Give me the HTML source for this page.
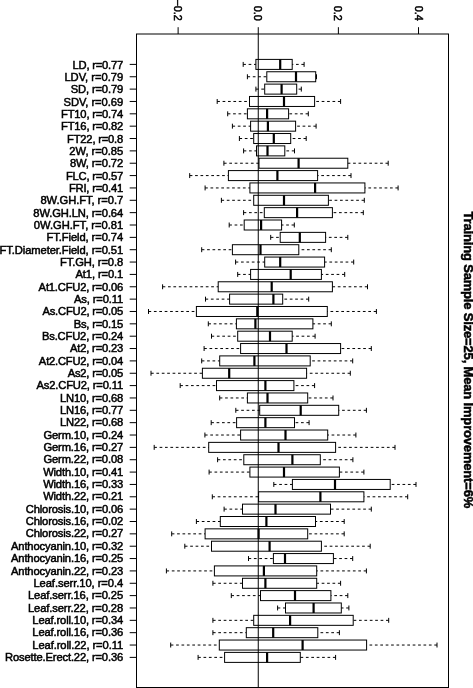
<!DOCTYPE html>
<html><head><meta charset="utf-8"><style>
html,body{margin:0;padding:0;background:#fff;}
body{width:473px;height:688px;overflow:hidden;}
svg{display:block;will-change:transform;}
.w{stroke:#000;stroke-width:1;stroke-dasharray:2.7 2.7;fill:none;}
.s{stroke:#000;stroke-width:1;fill:none;}
.b{stroke:#000;stroke-width:1;fill:none;}
.m{stroke:#000;stroke-width:2.2;}
text{font-family:"Liberation Sans",sans-serif;fill:#000;stroke:#000;stroke-width:0.5px;}
.l{font-size:11.2px;text-anchor:end;}
.t{font-size:10.8px;text-anchor:end;}
.ti{font-size:13px;font-weight:bold;text-anchor:start;}
</style></head><body>
<svg width="473" height="688" viewBox="0 0 473 688">
<rect width="473" height="688" fill="#fff"/>
<line x1="243.2" y1="64.4" x2="255.9" y2="64.4" class="w"/>
<line x1="304.1" y1="64.4" x2="292.2" y2="64.4" class="w"/>
<line x1="243.2" y1="61.93" x2="243.2" y2="66.87" class="s"/>
<line x1="304.1" y1="61.93" x2="304.1" y2="66.87" class="s"/>
<rect x="255.9" y="59.4" width="36.3" height="10" class="b"/>
<line x1="280.2" y1="59.4" x2="280.2" y2="69.4" class="m"/>
<line x1="129.7" y1="64.4" x2="136.5" y2="64.4" class="s"/>
<text x="123.2" y="68.5" class="l" textLength="50.72" lengthAdjust="spacing">LD, r=0.77</text>
<line x1="247.4" y1="76.75" x2="266.8" y2="76.75" class="w"/>
<line x1="316.5" y1="76.75" x2="315.7" y2="76.75" class="w"/>
<line x1="247.4" y1="74.28" x2="247.4" y2="79.22" class="s"/>
<line x1="316.5" y1="74.28" x2="316.5" y2="79.22" class="s"/>
<rect x="266.8" y="71.75" width="48.9" height="10" class="b"/>
<line x1="296" y1="71.75" x2="296" y2="81.75" class="m"/>
<line x1="129.7" y1="76.75" x2="136.5" y2="76.75" class="s"/>
<text x="123.2" y="80.84" class="l" textLength="58.79" lengthAdjust="spacing">LDV, r=0.79</text>
<line x1="255.9" y1="89.11" x2="264.7" y2="89.11" class="w"/>
<line x1="301.3" y1="89.11" x2="296.7" y2="89.11" class="w"/>
<line x1="255.9" y1="86.64" x2="255.9" y2="91.58" class="s"/>
<line x1="301.3" y1="86.64" x2="301.3" y2="91.58" class="s"/>
<rect x="264.7" y="84.11" width="32" height="10" class="b"/>
<line x1="281.6" y1="84.11" x2="281.6" y2="94.11" class="m"/>
<line x1="129.7" y1="89.11" x2="136.5" y2="89.11" class="s"/>
<text x="123.2" y="93.18" class="l" textLength="52.45" lengthAdjust="spacing">SD, r=0.79</text>
<line x1="217.2" y1="101.46" x2="249.5" y2="101.46" class="w"/>
<line x1="340.6" y1="101.46" x2="314.6" y2="101.46" class="w"/>
<line x1="217.2" y1="98.99" x2="217.2" y2="103.93" class="s"/>
<line x1="340.6" y1="98.99" x2="340.6" y2="103.93" class="s"/>
<rect x="249.5" y="96.46" width="65.1" height="10" class="b"/>
<line x1="284" y1="96.46" x2="284" y2="106.46" class="m"/>
<line x1="129.7" y1="101.46" x2="136.5" y2="101.46" class="s"/>
<text x="123.2" y="105.52" class="l" textLength="59.72" lengthAdjust="spacing">SDV, r=0.69</text>
<line x1="227.7" y1="113.82" x2="247.4" y2="113.82" class="w"/>
<line x1="308.3" y1="113.82" x2="288.6" y2="113.82" class="w"/>
<line x1="227.7" y1="111.35" x2="227.7" y2="116.29" class="s"/>
<line x1="308.3" y1="111.35" x2="308.3" y2="116.29" class="s"/>
<rect x="247.4" y="108.82" width="41.2" height="10" class="b"/>
<line x1="267.1" y1="108.82" x2="267.1" y2="118.82" class="m"/>
<line x1="129.7" y1="113.82" x2="136.5" y2="113.82" class="s"/>
<text x="123.2" y="117.87" class="l" textLength="62.12" lengthAdjust="spacing">FT10, r=0.74</text>
<line x1="232.4" y1="126.17" x2="250.6" y2="126.17" class="w"/>
<line x1="316.1" y1="126.17" x2="295.6" y2="126.17" class="w"/>
<line x1="232.4" y1="123.7" x2="232.4" y2="128.64" class="s"/>
<line x1="316.1" y1="123.7" x2="316.1" y2="128.64" class="s"/>
<rect x="250.6" y="121.17" width="45" height="10" class="b"/>
<line x1="267.9" y1="121.17" x2="267.9" y2="131.17" class="m"/>
<line x1="129.7" y1="126.17" x2="136.5" y2="126.17" class="s"/>
<text x="123.2" y="130.21" class="l" textLength="62.12" lengthAdjust="spacing">FT16, r=0.82</text>
<line x1="239.4" y1="138.52" x2="253.7" y2="138.52" class="w"/>
<line x1="306.2" y1="138.52" x2="290.7" y2="138.52" class="w"/>
<line x1="239.4" y1="136.05" x2="239.4" y2="140.99" class="s"/>
<line x1="306.2" y1="136.05" x2="306.2" y2="140.99" class="s"/>
<rect x="253.7" y="133.52" width="37" height="10" class="b"/>
<line x1="273.8" y1="133.52" x2="273.8" y2="143.52" class="m"/>
<line x1="129.7" y1="138.52" x2="136.5" y2="138.52" class="s"/>
<text x="123.2" y="142.55" class="l" textLength="56.11" lengthAdjust="spacing">FT22, r=0.8</text>
<line x1="243.6" y1="150.88" x2="256.5" y2="150.88" class="w"/>
<line x1="294.5" y1="150.88" x2="284.8" y2="150.88" class="w"/>
<line x1="243.6" y1="148.41" x2="243.6" y2="153.35" class="s"/>
<line x1="294.5" y1="148.41" x2="294.5" y2="153.35" class="s"/>
<rect x="256.5" y="145.88" width="28.3" height="10" class="b"/>
<line x1="267.5" y1="145.88" x2="267.5" y2="155.88" class="m"/>
<line x1="129.7" y1="150.88" x2="136.5" y2="150.88" class="s"/>
<text x="123.2" y="154.89" class="l" textLength="53.84" lengthAdjust="spacing">2W, r=0.85</text>
<line x1="223.9" y1="163.23" x2="259" y2="163.23" class="w"/>
<line x1="388.2" y1="163.23" x2="347.8" y2="163.23" class="w"/>
<line x1="223.9" y1="160.76" x2="223.9" y2="165.7" class="s"/>
<line x1="388.2" y1="160.76" x2="388.2" y2="165.7" class="s"/>
<rect x="259" y="158.23" width="88.8" height="10" class="b"/>
<line x1="298.6" y1="158.23" x2="298.6" y2="168.23" class="m"/>
<line x1="129.7" y1="163.23" x2="136.5" y2="163.23" class="s"/>
<text x="123.2" y="167.23" class="l" textLength="53.31" lengthAdjust="spacing">8W, r=0.72</text>
<line x1="189.7" y1="175.59" x2="228.4" y2="175.59" class="w"/>
<line x1="351" y1="175.59" x2="317.6" y2="175.59" class="w"/>
<line x1="189.7" y1="173.12" x2="189.7" y2="178.06" class="s"/>
<line x1="351" y1="173.12" x2="351" y2="178.06" class="s"/>
<rect x="228.4" y="170.59" width="89.2" height="10" class="b"/>
<line x1="277.4" y1="170.59" x2="277.4" y2="180.59" class="m"/>
<line x1="129.7" y1="175.59" x2="136.5" y2="175.59" class="s"/>
<text x="123.2" y="179.57" class="l" textLength="57.31" lengthAdjust="spacing">FLC, r=0.57</text>
<line x1="205.1" y1="187.94" x2="249.9" y2="187.94" class="w"/>
<line x1="398.1" y1="187.94" x2="364.9" y2="187.94" class="w"/>
<line x1="205.1" y1="185.47" x2="205.1" y2="190.41" class="s"/>
<line x1="398.1" y1="185.47" x2="398.1" y2="190.41" class="s"/>
<rect x="249.9" y="182.94" width="115" height="10" class="b"/>
<line x1="315.1" y1="182.94" x2="315.1" y2="192.94" class="m"/>
<line x1="129.7" y1="187.94" x2="136.5" y2="187.94" class="s"/>
<text x="123.2" y="191.91" class="l" textLength="54.31" lengthAdjust="spacing">FRI, r=0.41</text>
<line x1="221.4" y1="200.29" x2="253.7" y2="200.29" class="w"/>
<line x1="364.3" y1="200.29" x2="328.4" y2="200.29" class="w"/>
<line x1="221.4" y1="197.82" x2="221.4" y2="202.76" class="s"/>
<line x1="364.3" y1="197.82" x2="364.3" y2="202.76" class="s"/>
<rect x="253.7" y="195.29" width="74.7" height="10" class="b"/>
<line x1="284" y1="195.29" x2="284" y2="205.29" class="m"/>
<line x1="129.7" y1="200.29" x2="136.5" y2="200.29" class="s"/>
<text x="123.2" y="204.26" class="l" textLength="82.81" lengthAdjust="spacing">8W.GH.FT, r=0.7</text>
<line x1="243.6" y1="212.65" x2="264.3" y2="212.65" class="w"/>
<line x1="363.3" y1="212.65" x2="332.4" y2="212.65" class="w"/>
<line x1="243.6" y1="210.18" x2="243.6" y2="215.12" class="s"/>
<line x1="363.3" y1="210.18" x2="363.3" y2="215.12" class="s"/>
<rect x="264.3" y="207.65" width="68.1" height="10" class="b"/>
<line x1="297.1" y1="207.65" x2="297.1" y2="217.65" class="m"/>
<line x1="129.7" y1="212.65" x2="136.5" y2="212.65" class="s"/>
<text x="123.2" y="216.6" class="l" textLength="89.84" lengthAdjust="spacing">8W.GH.LN, r=0.64</text>
<line x1="229.2" y1="225" x2="244.2" y2="225" class="w"/>
<line x1="294.3" y1="225" x2="281.6" y2="225" class="w"/>
<line x1="229.2" y1="222.53" x2="229.2" y2="227.47" class="s"/>
<line x1="294.3" y1="222.53" x2="294.3" y2="227.47" class="s"/>
<rect x="244.2" y="220" width="37.4" height="10" class="b"/>
<line x1="261.1" y1="220" x2="261.1" y2="230" class="m"/>
<line x1="129.7" y1="225" x2="136.5" y2="225" class="s"/>
<text x="123.2" y="228.94" class="l" textLength="89.34" lengthAdjust="spacing">0W.GH.FT, r=0.81</text>
<line x1="270.7" y1="237.36" x2="280.2" y2="237.36" class="w"/>
<line x1="347.8" y1="237.36" x2="325.6" y2="237.36" class="w"/>
<line x1="270.7" y1="234.89" x2="270.7" y2="239.83" class="s"/>
<line x1="347.8" y1="234.89" x2="347.8" y2="239.83" class="s"/>
<rect x="280.2" y="232.36" width="45.4" height="10" class="b"/>
<line x1="299.8" y1="232.36" x2="299.8" y2="242.36" class="m"/>
<line x1="129.7" y1="237.36" x2="136.5" y2="237.36" class="s"/>
<text x="123.2" y="241.28" class="l" textLength="76.63" lengthAdjust="spacing">FT.Field, r=0.74</text>
<line x1="201.7" y1="249.71" x2="232.4" y2="249.71" class="w"/>
<line x1="331.3" y1="249.71" x2="298.8" y2="249.71" class="w"/>
<line x1="201.7" y1="247.24" x2="201.7" y2="252.18" class="s"/>
<line x1="331.3" y1="247.24" x2="331.3" y2="252.18" class="s"/>
<rect x="232.4" y="244.71" width="66.4" height="10" class="b"/>
<line x1="260.5" y1="244.71" x2="260.5" y2="254.71" class="m"/>
<line x1="129.7" y1="249.71" x2="136.5" y2="249.71" class="s"/>
<text x="123.2" y="253.62" class="l" textLength="123.63" lengthAdjust="spacing">FT.Diameter.Field, r=0.51</text>
<line x1="235.6" y1="262.06" x2="264.7" y2="262.06" class="w"/>
<line x1="353.7" y1="262.06" x2="324.6" y2="262.06" class="w"/>
<line x1="235.6" y1="259.59" x2="235.6" y2="264.53" class="s"/>
<line x1="353.7" y1="259.59" x2="353.7" y2="264.53" class="s"/>
<rect x="264.7" y="257.06" width="59.9" height="10" class="b"/>
<line x1="280.2" y1="257.06" x2="280.2" y2="267.06" class="m"/>
<line x1="129.7" y1="262.06" x2="136.5" y2="262.06" class="s"/>
<text x="123.2" y="265.96" class="l" textLength="63.17" lengthAdjust="spacing">FT.GH, r=0.8</text>
<line x1="237.7" y1="274.42" x2="250.6" y2="274.42" class="w"/>
<line x1="344.7" y1="274.42" x2="321.4" y2="274.42" class="w"/>
<line x1="237.7" y1="271.95" x2="237.7" y2="276.89" class="s"/>
<line x1="344.7" y1="271.95" x2="344.7" y2="276.89" class="s"/>
<rect x="250.6" y="269.42" width="70.8" height="10" class="b"/>
<line x1="290.7" y1="269.42" x2="290.7" y2="279.42" class="m"/>
<line x1="129.7" y1="274.42" x2="136.5" y2="274.42" class="s"/>
<text x="123.2" y="278.31" class="l" textLength="47.66" lengthAdjust="spacing">At1, r=0.1</text>
<line x1="162.6" y1="286.77" x2="218.2" y2="286.77" class="w"/>
<line x1="367.5" y1="286.77" x2="332.4" y2="286.77" class="w"/>
<line x1="162.6" y1="284.3" x2="162.6" y2="289.24" class="s"/>
<line x1="367.5" y1="284.3" x2="367.5" y2="289.24" class="s"/>
<rect x="218.2" y="281.77" width="114.2" height="10" class="b"/>
<line x1="271.7" y1="281.77" x2="271.7" y2="291.77" class="m"/>
<line x1="129.7" y1="286.77" x2="136.5" y2="286.77" class="s"/>
<text x="123.2" y="290.65" class="l" textLength="84.59" lengthAdjust="spacing">At1.CFU2, r=0.06</text>
<line x1="205.5" y1="299.13" x2="229.6" y2="299.13" class="w"/>
<line x1="308.7" y1="299.13" x2="282.7" y2="299.13" class="w"/>
<line x1="205.5" y1="296.66" x2="205.5" y2="301.6" class="s"/>
<line x1="308.7" y1="296.66" x2="308.7" y2="301.6" class="s"/>
<rect x="229.6" y="294.13" width="53.1" height="10" class="b"/>
<line x1="273.4" y1="294.13" x2="273.4" y2="304.13" class="m"/>
<line x1="129.7" y1="299.13" x2="136.5" y2="299.13" class="s"/>
<text x="123.2" y="302.99" class="l" textLength="49.25" lengthAdjust="spacing">As, r=0.11</text>
<line x1="148.5" y1="311.48" x2="196.4" y2="311.48" class="w"/>
<line x1="376.4" y1="311.48" x2="327.3" y2="311.48" class="w"/>
<line x1="148.5" y1="309.01" x2="148.5" y2="313.95" class="s"/>
<line x1="376.4" y1="309.01" x2="376.4" y2="313.95" class="s"/>
<rect x="196.4" y="306.48" width="130.9" height="10" class="b"/>
<line x1="257.3" y1="306.48" x2="257.3" y2="316.48" class="m"/>
<line x1="129.7" y1="311.48" x2="136.5" y2="311.48" class="s"/>
<text x="123.2" y="315.33" class="l" textLength="80.72" lengthAdjust="spacing">As.CFU2, r=0.05</text>
<line x1="208.3" y1="323.83" x2="236.4" y2="323.83" class="w"/>
<line x1="331.3" y1="323.83" x2="312.9" y2="323.83" class="w"/>
<line x1="208.3" y1="321.36" x2="208.3" y2="326.3" class="s"/>
<line x1="331.3" y1="321.36" x2="331.3" y2="326.3" class="s"/>
<rect x="236.4" y="318.83" width="76.5" height="10" class="b"/>
<line x1="255.4" y1="318.83" x2="255.4" y2="328.83" class="m"/>
<line x1="129.7" y1="323.83" x2="136.5" y2="323.83" class="s"/>
<text x="123.2" y="327.67" class="l" textLength="49.52" lengthAdjust="spacing">Bs, r=0.15</text>
<line x1="211.5" y1="336.19" x2="237.7" y2="336.19" class="w"/>
<line x1="315.1" y1="336.19" x2="292.2" y2="336.19" class="w"/>
<line x1="211.5" y1="333.72" x2="211.5" y2="338.66" class="s"/>
<line x1="315.1" y1="333.72" x2="315.1" y2="338.66" class="s"/>
<rect x="237.7" y="331.19" width="54.5" height="10" class="b"/>
<line x1="270" y1="331.19" x2="270" y2="341.19" class="m"/>
<line x1="129.7" y1="336.19" x2="136.5" y2="336.19" class="s"/>
<text x="123.2" y="340.01" class="l" textLength="81.25" lengthAdjust="spacing">Bs.CFU2, r=0.24</text>
<line x1="204.1" y1="348.54" x2="240.6" y2="348.54" class="w"/>
<line x1="371.3" y1="348.54" x2="340.6" y2="348.54" class="w"/>
<line x1="204.1" y1="346.07" x2="204.1" y2="351.01" class="s"/>
<line x1="371.3" y1="346.07" x2="371.3" y2="351.01" class="s"/>
<rect x="240.6" y="343.54" width="100" height="10" class="b"/>
<line x1="286.5" y1="343.54" x2="286.5" y2="353.54" class="m"/>
<line x1="129.7" y1="348.54" x2="136.5" y2="348.54" class="s"/>
<text x="123.2" y="352.35" class="l" textLength="53.12" lengthAdjust="spacing">At2, r=0.23</text>
<line x1="201.7" y1="360.9" x2="219.7" y2="360.9" class="w"/>
<line x1="352.7" y1="360.9" x2="310.2" y2="360.9" class="w"/>
<line x1="201.7" y1="358.43" x2="201.7" y2="363.37" class="s"/>
<line x1="352.7" y1="358.43" x2="352.7" y2="363.37" class="s"/>
<rect x="219.7" y="355.9" width="90.5" height="10" class="b"/>
<line x1="254.4" y1="355.9" x2="254.4" y2="365.9" class="m"/>
<line x1="129.7" y1="360.9" x2="136.5" y2="360.9" class="s"/>
<text x="123.2" y="364.7" class="l" textLength="84.33" lengthAdjust="spacing">At2.CFU2, r=0.04</text>
<line x1="151" y1="373.25" x2="202.4" y2="373.25" class="w"/>
<line x1="350.3" y1="373.25" x2="306.6" y2="373.25" class="w"/>
<line x1="151" y1="370.78" x2="151" y2="375.72" class="s"/>
<line x1="350.3" y1="370.78" x2="350.3" y2="375.72" class="s"/>
<rect x="202.4" y="368.25" width="104.2" height="10" class="b"/>
<line x1="229.2" y1="368.25" x2="229.2" y2="378.25" class="m"/>
<line x1="129.7" y1="373.25" x2="136.5" y2="373.25" class="s"/>
<text x="123.2" y="377.04" class="l" textLength="55.53" lengthAdjust="spacing">As2, r=0.05</text>
<line x1="180.2" y1="385.6" x2="216.5" y2="385.6" class="w"/>
<line x1="314.6" y1="385.6" x2="293.9" y2="385.6" class="w"/>
<line x1="180.2" y1="383.13" x2="180.2" y2="388.07" class="s"/>
<line x1="314.6" y1="383.13" x2="314.6" y2="388.07" class="s"/>
<rect x="216.5" y="380.6" width="77.4" height="10" class="b"/>
<line x1="265.4" y1="380.6" x2="265.4" y2="390.6" class="m"/>
<line x1="129.7" y1="385.6" x2="136.5" y2="385.6" class="s"/>
<text x="123.2" y="389.38" class="l" textLength="86.71" lengthAdjust="spacing">As2.CFU2, r=0.11</text>
<line x1="219.7" y1="397.96" x2="247.4" y2="397.96" class="w"/>
<line x1="333" y1="397.96" x2="307.7" y2="397.96" class="w"/>
<line x1="219.7" y1="395.49" x2="219.7" y2="400.43" class="s"/>
<line x1="333" y1="395.49" x2="333" y2="400.43" class="s"/>
<rect x="247.4" y="392.96" width="60.3" height="10" class="b"/>
<line x1="267.5" y1="392.96" x2="267.5" y2="402.96" class="m"/>
<line x1="129.7" y1="397.96" x2="136.5" y2="397.96" class="s"/>
<text x="123.2" y="401.72" class="l" textLength="63.26" lengthAdjust="spacing">LN10, r=0.68</text>
<line x1="235.8" y1="410.31" x2="259.7" y2="410.31" class="w"/>
<line x1="366.4" y1="410.31" x2="338.7" y2="410.31" class="w"/>
<line x1="235.8" y1="407.84" x2="235.8" y2="412.78" class="s"/>
<line x1="366.4" y1="407.84" x2="366.4" y2="412.78" class="s"/>
<rect x="259.7" y="405.31" width="79" height="10" class="b"/>
<line x1="300.7" y1="405.31" x2="300.7" y2="415.31" class="m"/>
<line x1="129.7" y1="410.31" x2="136.5" y2="410.31" class="s"/>
<text x="123.2" y="414.06" class="l" textLength="63.26" lengthAdjust="spacing">LN16, r=0.77</text>
<line x1="211.2" y1="422.67" x2="236.6" y2="422.67" class="w"/>
<line x1="309.1" y1="422.67" x2="294.5" y2="422.67" class="w"/>
<line x1="211.2" y1="420.2" x2="211.2" y2="425.14" class="s"/>
<line x1="309.1" y1="420.2" x2="309.1" y2="425.14" class="s"/>
<rect x="236.6" y="417.67" width="57.9" height="10" class="b"/>
<line x1="265.4" y1="417.67" x2="265.4" y2="427.67" class="m"/>
<line x1="129.7" y1="422.67" x2="136.5" y2="422.67" class="s"/>
<text x="123.2" y="426.4" class="l" textLength="63.26" lengthAdjust="spacing">LN22, r=0.68</text>
<line x1="204.9" y1="435.02" x2="240.6" y2="435.02" class="w"/>
<line x1="355.9" y1="435.02" x2="327.7" y2="435.02" class="w"/>
<line x1="204.9" y1="432.55" x2="204.9" y2="437.49" class="s"/>
<line x1="355.9" y1="432.55" x2="355.9" y2="437.49" class="s"/>
<rect x="240.6" y="430.02" width="87.1" height="10" class="b"/>
<line x1="285.5" y1="430.02" x2="285.5" y2="440.02" class="m"/>
<line x1="129.7" y1="435.02" x2="136.5" y2="435.02" class="s"/>
<text x="123.2" y="438.75" class="l" textLength="79.71" lengthAdjust="spacing">Germ.10, r=0.24</text>
<line x1="154.2" y1="447.37" x2="208.7" y2="447.37" class="w"/>
<line x1="395" y1="447.37" x2="335.6" y2="447.37" class="w"/>
<line x1="154.2" y1="444.9" x2="154.2" y2="449.84" class="s"/>
<line x1="395" y1="444.9" x2="395" y2="449.84" class="s"/>
<rect x="208.7" y="442.37" width="126.9" height="10" class="b"/>
<line x1="278.5" y1="442.37" x2="278.5" y2="452.37" class="m"/>
<line x1="129.7" y1="447.37" x2="136.5" y2="447.37" class="s"/>
<text x="123.2" y="451.09" class="l" textLength="79.71" lengthAdjust="spacing">Germ.16, r=0.27</text>
<line x1="217.6" y1="459.73" x2="243.8" y2="459.73" class="w"/>
<line x1="352.9" y1="459.73" x2="320.3" y2="459.73" class="w"/>
<line x1="217.6" y1="457.26" x2="217.6" y2="462.2" class="s"/>
<line x1="352.9" y1="457.26" x2="352.9" y2="462.2" class="s"/>
<rect x="243.8" y="454.73" width="76.5" height="10" class="b"/>
<line x1="292.4" y1="454.73" x2="292.4" y2="464.73" class="m"/>
<line x1="129.7" y1="459.73" x2="136.5" y2="459.73" class="s"/>
<text x="123.2" y="463.43" class="l" textLength="79.71" lengthAdjust="spacing">Germ.22, r=0.08</text>
<line x1="209.1" y1="472.08" x2="249.9" y2="472.08" class="w"/>
<line x1="363.9" y1="472.08" x2="339.4" y2="472.08" class="w"/>
<line x1="209.1" y1="469.61" x2="209.1" y2="474.55" class="s"/>
<line x1="363.9" y1="469.61" x2="363.9" y2="474.55" class="s"/>
<rect x="249.9" y="467.08" width="89.5" height="10" class="b"/>
<line x1="284" y1="467.08" x2="284" y2="477.08" class="m"/>
<line x1="129.7" y1="472.08" x2="136.5" y2="472.08" class="s"/>
<text x="123.2" y="475.77" class="l" textLength="80.06" lengthAdjust="spacing">Width.10, r=0.41</text>
<line x1="273.8" y1="484.44" x2="292.4" y2="484.44" class="w"/>
<line x1="416" y1="484.44" x2="390.2" y2="484.44" class="w"/>
<line x1="273.8" y1="481.97" x2="273.8" y2="486.91" class="s"/>
<line x1="416" y1="481.97" x2="416" y2="486.91" class="s"/>
<rect x="292.4" y="479.44" width="97.8" height="10" class="b"/>
<line x1="335" y1="479.44" x2="335" y2="489.44" class="m"/>
<line x1="129.7" y1="484.44" x2="136.5" y2="484.44" class="s"/>
<text x="123.2" y="488.11" class="l" textLength="80.06" lengthAdjust="spacing">Width.16, r=0.33</text>
<line x1="212.3" y1="496.79" x2="258.6" y2="496.79" class="w"/>
<line x1="407.7" y1="496.79" x2="363.9" y2="496.79" class="w"/>
<line x1="212.3" y1="494.32" x2="212.3" y2="499.26" class="s"/>
<line x1="407.7" y1="494.32" x2="407.7" y2="499.26" class="s"/>
<rect x="258.6" y="491.79" width="105.3" height="10" class="b"/>
<line x1="320.4" y1="491.79" x2="320.4" y2="501.79" class="m"/>
<line x1="129.7" y1="496.79" x2="136.5" y2="496.79" class="s"/>
<text x="123.2" y="500.45" class="l" textLength="80.06" lengthAdjust="spacing">Width.22, r=0.21</text>
<line x1="224.1" y1="509.14" x2="242.5" y2="509.14" class="w"/>
<line x1="371.3" y1="509.14" x2="330.5" y2="509.14" class="w"/>
<line x1="224.1" y1="506.67" x2="224.1" y2="511.61" class="s"/>
<line x1="371.3" y1="506.67" x2="371.3" y2="511.61" class="s"/>
<rect x="242.5" y="504.14" width="88" height="10" class="b"/>
<line x1="275.5" y1="504.14" x2="275.5" y2="514.14" class="m"/>
<line x1="129.7" y1="509.14" x2="136.5" y2="509.14" class="s"/>
<text x="123.2" y="512.79" class="l" textLength="97.47" lengthAdjust="spacing">Chlorosis.10, r=0.06</text>
<line x1="196.4" y1="521.5" x2="220.3" y2="521.5" class="w"/>
<line x1="344.2" y1="521.5" x2="315.5" y2="521.5" class="w"/>
<line x1="196.4" y1="519.03" x2="196.4" y2="523.97" class="s"/>
<line x1="344.2" y1="519.03" x2="344.2" y2="523.97" class="s"/>
<rect x="220.3" y="516.5" width="95.2" height="10" class="b"/>
<line x1="266.4" y1="516.5" x2="266.4" y2="526.5" class="m"/>
<line x1="129.7" y1="521.5" x2="136.5" y2="521.5" class="s"/>
<text x="123.2" y="525.14" class="l" textLength="97.47" lengthAdjust="spacing">Chlorosis.16, r=0.02</text>
<line x1="171.7" y1="533.85" x2="205.1" y2="533.85" class="w"/>
<line x1="344.2" y1="533.85" x2="307.7" y2="533.85" class="w"/>
<line x1="171.7" y1="531.38" x2="171.7" y2="536.32" class="s"/>
<line x1="344.2" y1="531.38" x2="344.2" y2="536.32" class="s"/>
<rect x="205.1" y="528.85" width="102.6" height="10" class="b"/>
<line x1="258.6" y1="528.85" x2="258.6" y2="538.85" class="m"/>
<line x1="129.7" y1="533.85" x2="136.5" y2="533.85" class="s"/>
<text x="123.2" y="537.48" class="l" textLength="97.47" lengthAdjust="spacing">Chlorosis.22, r=0.27</text>
<line x1="184.8" y1="546.21" x2="211.5" y2="546.21" class="w"/>
<line x1="370.2" y1="546.21" x2="321.4" y2="546.21" class="w"/>
<line x1="184.8" y1="543.74" x2="184.8" y2="548.68" class="s"/>
<line x1="370.2" y1="543.74" x2="370.2" y2="548.68" class="s"/>
<rect x="211.5" y="541.21" width="109.9" height="10" class="b"/>
<line x1="269.6" y1="541.21" x2="269.6" y2="551.21" class="m"/>
<line x1="129.7" y1="546.21" x2="136.5" y2="546.21" class="s"/>
<text x="123.2" y="549.82" class="l" textLength="112.15" lengthAdjust="spacing">Anthocyanin.10, r=0.32</text>
<line x1="248.5" y1="558.56" x2="273.4" y2="558.56" class="w"/>
<line x1="352.7" y1="558.56" x2="333.4" y2="558.56" class="w"/>
<line x1="248.5" y1="556.09" x2="248.5" y2="561.03" class="s"/>
<line x1="352.7" y1="556.09" x2="352.7" y2="561.03" class="s"/>
<rect x="273.4" y="553.56" width="60" height="10" class="b"/>
<line x1="285" y1="553.56" x2="285" y2="563.56" class="m"/>
<line x1="129.7" y1="558.56" x2="136.5" y2="558.56" class="s"/>
<text x="123.2" y="562.16" class="l" textLength="112.15" lengthAdjust="spacing">Anthocyanin.16, r=0.25</text>
<line x1="166.4" y1="570.91" x2="214.4" y2="570.91" class="w"/>
<line x1="366.4" y1="570.91" x2="316.7" y2="570.91" class="w"/>
<line x1="166.4" y1="568.44" x2="166.4" y2="573.38" class="s"/>
<line x1="366.4" y1="568.44" x2="366.4" y2="573.38" class="s"/>
<rect x="214.4" y="565.91" width="102.3" height="10" class="b"/>
<line x1="263.9" y1="565.91" x2="263.9" y2="575.91" class="m"/>
<line x1="129.7" y1="570.91" x2="136.5" y2="570.91" class="s"/>
<text x="123.2" y="574.5" class="l" textLength="112.15" lengthAdjust="spacing">Anthocyanin.22, r=0.23</text>
<line x1="212.9" y1="583.27" x2="242.5" y2="583.27" class="w"/>
<line x1="340.6" y1="583.27" x2="316.7" y2="583.27" class="w"/>
<line x1="212.9" y1="580.8" x2="212.9" y2="585.74" class="s"/>
<line x1="340.6" y1="580.8" x2="340.6" y2="585.74" class="s"/>
<rect x="242.5" y="578.27" width="74.2" height="10" class="b"/>
<line x1="265.4" y1="578.27" x2="265.4" y2="588.27" class="m"/>
<line x1="129.7" y1="583.27" x2="136.5" y2="583.27" class="s"/>
<text x="123.2" y="586.84" class="l" textLength="89.79" lengthAdjust="spacing">Leaf.serr.10, r=0.4</text>
<line x1="231.3" y1="595.62" x2="260.5" y2="595.62" class="w"/>
<line x1="347.8" y1="595.62" x2="330.9" y2="595.62" class="w"/>
<line x1="231.3" y1="593.15" x2="231.3" y2="598.09" class="s"/>
<line x1="347.8" y1="593.15" x2="347.8" y2="598.09" class="s"/>
<rect x="260.5" y="590.62" width="70.4" height="10" class="b"/>
<line x1="295" y1="590.62" x2="295" y2="600.62" class="m"/>
<line x1="129.7" y1="595.62" x2="136.5" y2="595.62" class="s"/>
<text x="123.2" y="599.18" class="l" textLength="95.26" lengthAdjust="spacing">Leaf.serr.16, r=0.25</text>
<line x1="277.6" y1="607.98" x2="285.5" y2="607.98" class="w"/>
<line x1="348.9" y1="607.98" x2="341.3" y2="607.98" class="w"/>
<line x1="277.6" y1="605.51" x2="277.6" y2="610.45" class="s"/>
<line x1="348.9" y1="605.51" x2="348.9" y2="610.45" class="s"/>
<rect x="285.5" y="602.98" width="55.8" height="10" class="b"/>
<line x1="313.6" y1="602.98" x2="313.6" y2="612.98" class="m"/>
<line x1="129.7" y1="607.98" x2="136.5" y2="607.98" class="s"/>
<text x="123.2" y="611.53" class="l" textLength="95.26" lengthAdjust="spacing">Leaf.serr.22, r=0.28</text>
<line x1="212.9" y1="620.33" x2="253.7" y2="620.33" class="w"/>
<line x1="388.7" y1="620.33" x2="353.2" y2="620.33" class="w"/>
<line x1="212.9" y1="617.86" x2="212.9" y2="622.8" class="s"/>
<line x1="388.7" y1="617.86" x2="388.7" y2="622.8" class="s"/>
<rect x="253.7" y="615.33" width="99.5" height="10" class="b"/>
<line x1="290.1" y1="615.33" x2="290.1" y2="625.33" class="m"/>
<line x1="129.7" y1="620.33" x2="136.5" y2="620.33" class="s"/>
<text x="123.2" y="623.87" class="l" textLength="90.87" lengthAdjust="spacing">Leaf.roll.10, r=0.34</text>
<line x1="212.9" y1="632.68" x2="246.3" y2="632.68" class="w"/>
<line x1="339.4" y1="632.68" x2="317.8" y2="632.68" class="w"/>
<line x1="212.9" y1="630.21" x2="212.9" y2="635.15" class="s"/>
<line x1="339.4" y1="630.21" x2="339.4" y2="635.15" class="s"/>
<rect x="246.3" y="627.68" width="71.5" height="10" class="b"/>
<line x1="273.2" y1="627.68" x2="273.2" y2="637.68" class="m"/>
<line x1="129.7" y1="632.68" x2="136.5" y2="632.68" class="s"/>
<text x="123.2" y="636.21" class="l" textLength="90.87" lengthAdjust="spacing">Leaf.roll.16, r=0.36</text>
<line x1="170.7" y1="645.04" x2="219.3" y2="645.04" class="w"/>
<line x1="437" y1="645.04" x2="366.6" y2="645.04" class="w"/>
<line x1="170.7" y1="642.57" x2="170.7" y2="647.51" class="s"/>
<line x1="437" y1="642.57" x2="437" y2="647.51" class="s"/>
<rect x="219.3" y="640.04" width="147.3" height="10" class="b"/>
<line x1="302.6" y1="640.04" x2="302.6" y2="650.04" class="m"/>
<line x1="129.7" y1="645.04" x2="136.5" y2="645.04" class="s"/>
<text x="123.2" y="648.55" class="l" textLength="90.87" lengthAdjust="spacing">Leaf.roll.22, r=0.11</text>
<line x1="198.1" y1="657.39" x2="224.6" y2="657.39" class="w"/>
<line x1="335.6" y1="657.39" x2="300.3" y2="657.39" class="w"/>
<line x1="198.1" y1="654.92" x2="198.1" y2="659.86" class="s"/>
<line x1="335.6" y1="654.92" x2="335.6" y2="659.86" class="s"/>
<rect x="224.6" y="652.39" width="75.7" height="10" class="b"/>
<line x1="267.1" y1="652.39" x2="267.1" y2="662.39" class="m"/>
<line x1="129.7" y1="657.39" x2="136.5" y2="657.39" class="s"/>
<text x="123.2" y="660.89" class="l" textLength="118.13" lengthAdjust="spacing">Rosette.Erect.22, r=0.36</text>
<line x1="258.25" y1="34" x2="258.25" y2="687.5" class="s"/>
<rect x="136.5" y="34" width="312" height="653.5" class="b" fill="none"/>
<line x1="178.11" y1="27.2" x2="178.11" y2="34" class="s"/>
<text transform="translate(174.21,20.8) rotate(90)" class="t">&#8722;0.2</text>
<line x1="258.25" y1="27.2" x2="258.25" y2="34" class="s"/>
<text transform="translate(254.35,20.8) rotate(90)" class="t">0.0</text>
<line x1="338.39" y1="27.2" x2="338.39" y2="34" class="s"/>
<text transform="translate(334.49,20.8) rotate(90)" class="t">0.2</text>
<line x1="418.53" y1="27.2" x2="418.53" y2="34" class="s"/>
<text transform="translate(414.63,20.8) rotate(90)" class="t">0.4</text>
<text transform="translate(463.6,211.5) rotate(90) scale(1,1.05)" class="ti" textLength="296.8" lengthAdjust="spacing">Training Sample Size=25, Mean Improvement=6%</text>
</svg>
</body></html>
